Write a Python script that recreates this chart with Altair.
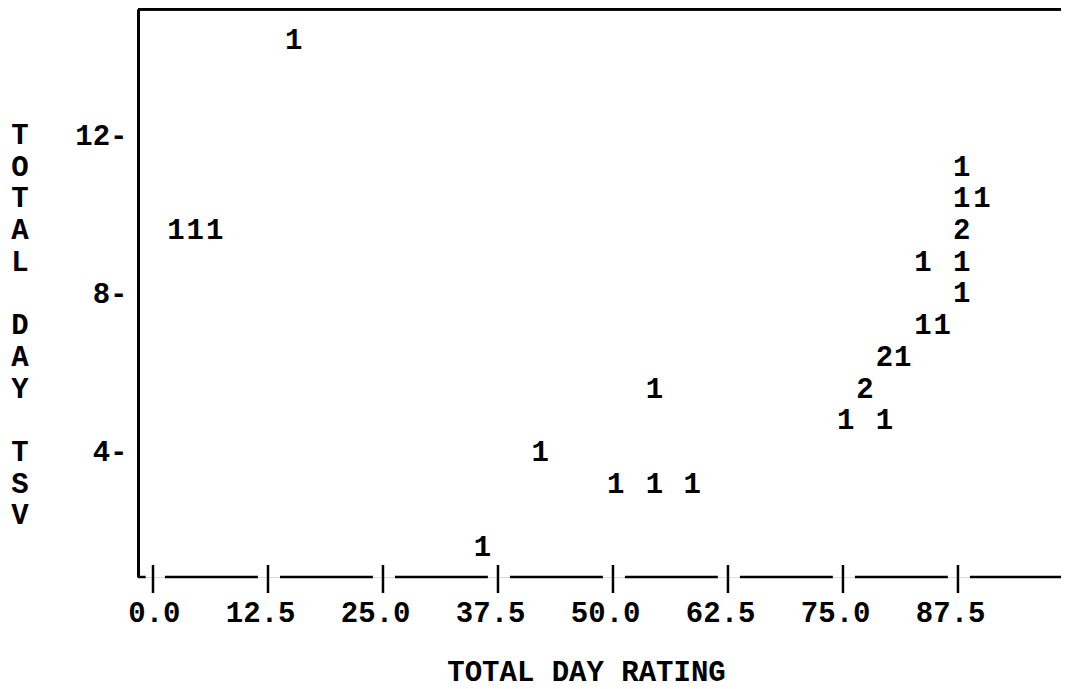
import altair as alt
import pandas as pd

# ---- data (printer-plot cells: x = rating, y = TSV, n = count printed) ----
pt_x = [15.3, 2.5, 4.6, 6.7, 42.1, 35.8, 50.3, 54.5, 58.6, 54.5,
        87.9, 87.9, 90.1, 87.9, 83.7, 87.9, 87.9, 83.7, 85.8,
        79.5, 81.5, 77.4, 75.3, 79.5]
pt_y = [14.4, 9.6, 9.6, 9.6, 4.0, 1.6, 3.2, 3.2, 3.2, 5.6,
        11.2, 10.4, 10.4, 9.6, 8.8, 8.8, 8.0, 7.2, 7.2,
        6.4, 6.4, 5.6, 4.8, 4.8]
pt_n = [1, 1, 1, 1, 1, 1, 1, 1, 1, 1,
        1, 1, 1, 2, 1, 1, 1, 1, 1,
        2, 1, 2, 1, 1]

x_ticks = [0.0, 12.5, 25.0, 37.5, 50.0, 62.5, 75.0, 87.5]
y_ticks = [4, 8, 12]
x_title = "TOTAL DAY RATING"
# vertical y-axis title "TOTAL DAY TSV", one letter per printer row
y_title_letters = ["T", "O", "T", "A", "L", "D", "A", "Y", "T", "S", "V"]
y_title_rows = [12.0, 11.2, 10.4, 9.6, 8.8, 7.2, 6.4, 5.6, 4.0, 3.2, 2.4]

# ---- layout ----
W, H = 923, 568
x_dom = [-1.63, 98.7]
y_dom = [0.845, 15.18]
FONT = "Liberation Mono"
FS = 29

pts = pd.DataFrame({"x": pt_x, "y": pt_y, "n": pt_n})
xs = alt.Scale(domain=x_dom, nice=False, zero=False)
ys = alt.Scale(domain=y_dom, nice=False, zero=False)

x_axis = alt.Axis(
    values=x_ticks, format=".1f", domain=False, ticks=False, tickSize=0,
    grid=False, labelFont=FONT, labelFontSize=FS, labelFontWeight="bold",
    labelColor="black", labelAlign="right", labelOffset=27,
    labelBaseline="middle", labelPadding=35, labelFlush=False,
    labelOverlap=False, title=x_title, titleFont=FONT, titleFontSize=FS,
    titleFontWeight="bold", titleColor="black", titleX=448, titleY=94,
    titleAlign="center", titleBaseline="middle",
)
y_axis = alt.Axis(
    values=y_ticks, labelExpr="datum.label + '-'", domain=True,
    domainColor="black", domainWidth=3, ticks=False, tickSize=0, grid=False,
    labelFont=FONT, labelFontSize=FS, labelFontWeight="bold",
    labelColor="black", labelAlign="right", labelBaseline="middle",
    labelPadding=11, labelFlush=False, labelOverlap=False, title=None,
)

points = alt.Chart(pts).mark_text(
    font=FONT, fontSize=FS, fontWeight="bold", color="black",
    align="center", baseline="middle",
).encode(
    x=alt.X("x:Q", scale=xs, axis=x_axis),
    y=alt.Y("y:Q", scale=ys, axis=y_axis),
    text=alt.Text("n:Q"),
)

# vertical axis title letters
ttl_df = pd.DataFrame({"ch": y_title_letters, "r": y_title_rows})
y_title_mark = alt.Chart(ttl_df).mark_text(
    font=FONT, fontSize=FS, fontWeight="bold", color="black",
    align="center", baseline="middle",
).encode(
    x=alt.value(-118),
    y=alt.Y("r:Q", scale=ys),
    text="ch:N",
)

# tick marks "|" on the bottom axis
ticks_df = pd.DataFrame({"t": x_ticks})
tick_rules = alt.Chart(ticks_df).mark_rule(color="black", strokeWidth=2.5).encode(
    x=alt.X("t:Q", scale=xs),
    y=alt.value(H - 12),
    y2=alt.value(H + 16),
)

# dashed baseline segments between ticks (printer style)
seg_start = [x_dom[0]] + [t + 1.3 for t in x_ticks]
seg_end = [-0.8] + [t + 12.5 - 1.1 for t in x_ticks[:-1]] + [x_dom[1]]
seg_df = pd.DataFrame({"a": seg_start, "b": seg_end})
segs = alt.Chart(seg_df).mark_rule(color="black", strokeWidth=2.5).encode(
    x=alt.X("a:Q", scale=xs),
    x2="b:Q",
    y=alt.value(H),
)

# top frame line
top_line = alt.Chart(ticks_df).mark_rule(color="black", strokeWidth=2.5).encode(
    x=alt.value(0), x2=alt.value(W), y=alt.value(0)
)

chart = alt.layer(points, y_title_mark, tick_rules, segs, top_line).properties(
    width=W, height=H,
    autosize=alt.AutoSizeParams(type="none"),
    padding={"left": 130, "top": 1, "right": 0, "bottom": 112},
).configure_view(stroke=None).configure(background="white")

chart.save("out.html", embed_options={"renderer": "svg", "actions": False})
